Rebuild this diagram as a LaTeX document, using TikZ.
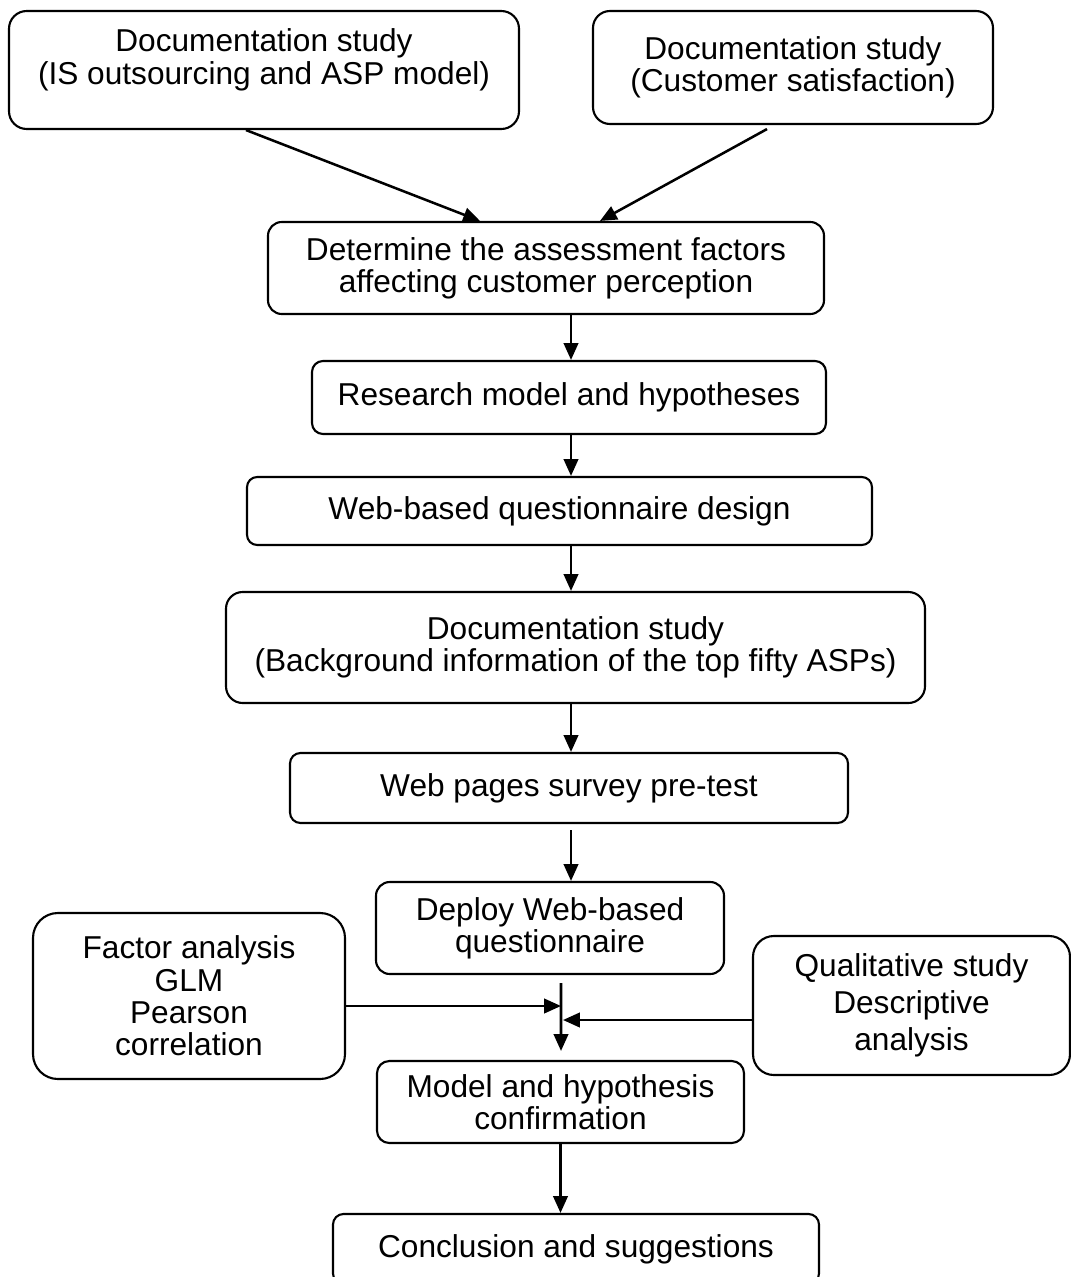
\documentclass[tikz,border=0pt]{standalone}
\usepackage{fontspec}
\setmainfont{Liberation Sans}
\usetikzlibrary{arrows.meta,positioning,calc}

\begin{document}
\begin{tikzpicture}[x = 0.025cm, y = -0.025cm, box/.style 2 args = {draw, line width = 1.5pt, align = center, inner sep = 0pt, minimum width = #1*0.025cm, minimum height = #2*0.025cm, rounded corners = 0.15*#2*0.025cm, font = \fontsize{22.5}{23}\selectfont}, >={Triangle[length = 0.42cm, width = 0.36cm]}, line width = 1.8pt]
	\useasboundingbox (0,0) rectangle (1071,1277);

	\node[box = {510}{118}](isasp) at (264,70) {Documentation study\\(IS outsourcing and ASP model)\\[-4pt]\mbox{}};
	\node[box = {400}{113}](custsat) at (793,67.5) {Documentation study\\(Customer satisfaction)};
	\node[box = {556}{92}](factors) at (546,268) {Determine the assessment factors\\affecting customer perception};
	\node[box = {514}{73}](model) at (569,397.5) {Research model and hypotheses};
	\node[box = {625}{68}](design) at (559.5,511) {Web-based questionnaire design};
	\node[box = {699}{111}](topasp) at (575.5,647.5) {Documentation study\\(Background information of the top fifty ASPs)};
	\node[box = {558}{70}](pretest) at (569,788) {Web pages survey pre-test};
	\node[box = {348}{92}](deploy) at (550,928) {Deploy Web-based\\questionnaire};
	\node[box = {312}{166}](stats) at (189,996) {Factor analysis\\GLM\\Pearson\\correlation};
	\node[box = {317}{139}, font = \fontsize{22.5}{26.3}\selectfont](qual) at (911.5,1005.5) {Qualitative study\\Descriptive\\analysis};
	\node[box = {367}{82}](confirm) at (560.5,1102) {Model and hypothesis\\confirmation};
	\node[box = {486}{70}](concl) at (576,1249) {Conclusion and suggestions};

	\coordinate (axis) at (571,0);
	\coordinate (mergetop) at ($(deploy.south)+(11,8)$);
	\coordinate (mergebot) at ($(confirm.north)+(0.5,-9)$);
	\coordinate (mergeL) at (561,1006);
	\coordinate (mergeR) at (563,1020);

	\draw[->] ($(isasp.south)+(-18,0)$) -- ($(factors.north)+(-66,0)$);
	\draw[->] ($(custsat.south)+(-26,4)$) -- ($(factors.north)+(54,0)$);
	\draw[->] (factors.south -| axis) -- (model.north -| axis);
	\draw[->] (model.south -| axis) -- (design.north -| axis);
	\draw[->] (design.south -| axis) -- (topasp.north -| axis);
	\draw[->] (topasp.south -| axis) -- (pretest.north -| axis);
	\draw[->] ($(pretest.south -| axis)+(0,6)$) -- (deploy.north -| axis);
	\draw[->] (mergetop) -- (mergebot);
	\draw[->] (stats.east |- mergeL) -- (mergeL);
	\draw[->] (qual.west |- mergeR) -- (mergeR);
	\draw[->] (confirm.south) -- (concl.north -| confirm.south);

\end{tikzpicture}
\end{document}
